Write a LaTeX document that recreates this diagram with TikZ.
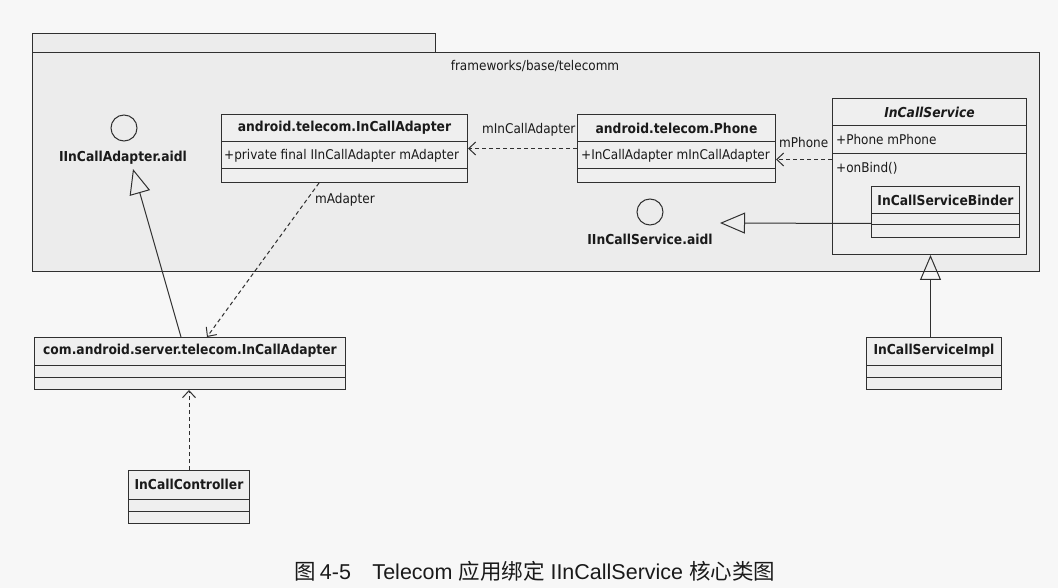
\documentclass[tikz,border=0pt]{standalone}
\usepackage{fontspec}
\usetikzlibrary{arrows.meta,calc}
\IfFontExistsTF{DejaVu Sans Condensed}{\newfontfamily\umlfont{DejaVu Sans Condensed}}{\newfontfamily\umlfont{DejaVu Sans}}
\newfontfamily\cjk{Noto Sans CJK SC}
\newfontfamily\capfont{Liberation Sans}
\definecolor{pagebg}{HTML}{F7F7F7}
\definecolor{pkgfill}{HTML}{ECECEC}
\definecolor{clsfill}{HTML}{EFEFEF}
\definecolor{linec}{HTML}{303030}
\definecolor{txtc}{HTML}{1A1A1A}
\tikzset{
  ln/.style={draw=linec, line width=1pt},
  cls/.style={ln, fill=clsfill, rectangle, inner sep=0pt, anchor=north west},
  ttl/.style={font=\umlfont\bfseries\fontsize{13.7}{15}\selectfont, text=txtc, inner sep=0pt},
  attr/.style={font=\umlfont\fontsize{13.4}{15}\selectfont, text=txtc, inner sep=0pt, anchor=west},
  ifc/.style={ln, circle, minimum size=26pt, inner sep=0pt, fill=pkgfill},
  dep/.style={ln, dash pattern=on 4pt off 3pt, -{Straight Barb[length=7pt,width=13pt]}},
  gen/.style={ln, -{Triangle[open, length=25pt, width=21pt]}},
}
\newcommand\umlclass[8]{%
  \node[cls, minimum width={#4pt-#2pt}, minimum height={#5pt-#3pt}] (#1) at (#2,#3) {};
  \draw[ln] (#2,#6) -- (#4,#6);
  \draw[ln] (#2,#7) -- (#4,#7);
  \node[ttl] (#1-t) at ($(#1.north)+(0,14)$) {#8};
}
\begin{document}
\begin{tikzpicture}[x=1pt,y=-1pt]
\useasboundingbox[fill=pagebg] (0,0) rectangle (1058,588);
% package
\node[ln, fill=pkgfill, rectangle, inner sep=0pt, anchor=north west, minimum width=403pt, minimum height=19pt] (tab) at (32,33) {};
\node[ln, fill=pkgfill, rectangle, inner sep=0pt, anchor=north west, minimum width=1007pt, minimum height=219pt] (pkg) at (32,52) {};
\node[attr, anchor=center] (pkgname) at (535,66) {frameworks/base/telecomm};
% classes
\umlclass{inca}{221}{114}{467}{182}{142}{169}{android.telecom.InCallAdapter}
\node[attr] (inca-a) at (224,155.5) {+private final IInCallAdapter mAdapter};
\umlclass{phone}{577}{114}{775}{182}{142}{169}{android.telecom.Phone}
\node[attr] (phone-a) at (581,155.5) {+InCallAdapter mInCallAdapter};
\umlclass{ics}{832}{98}{1026}{254}{126}{154}{\itshape InCallService}
\node[attr] (ics-a) at (836,140) {+Phone mPhone};
\node[attr] (ics-m) at (836,168) {+onBind()};
\umlclass{binder}{871}{186}{1019}{237}{214}{225}{InCallServiceBinder}
\umlclass{server}{34}{337}{345}{389}{365}{377}{com.android.server.telecom.InCallAdapter}
\umlclass{ctrl}{128}{470}{249}{523}{499}{511}{InCallController}
\umlclass{impl}{866}{337}{1001}{389}{365}{377}{InCallServiceImpl}
% interfaces
\node[ifc] (iac) at (124,128) {};
\node[ttl] (iat) at (123,158) {IInCallAdapter.aidl};
\coordinate (iatip) at (133,169);
\node[ifc] (isc) at (650,212) {};
\node[ttl] (ist) at (650,239) {IInCallService.aidl};
\coordinate (istip) at (720,223);
% connectors
\draw[dep] (phone.west) -- (inca.east |- phone.west);
\node[attr] (l1) at (482,129.5) {mInCallAdapter};
\draw[dep] ([yshift=17pt]ics.west) coordinate (b0) -- (phone.east |- b0);
\node[attr] (l2) at (779,142.5) {mPhone};
\draw[dep] ([xshift=98pt]inca.south west) -- ([xshift=173pt]server.north west);
\node[attr] (l3) at (315,200) {mAdapter};
\draw[gen] ([xshift=147pt]server.north west) -- (iatip);
\draw[gen] ([yshift=-11.5pt]binder.west) -- (istip);
\draw[gen] ([xshift=-3.5pt]impl.north) coordinate (f0) -- (f0 |- ics.south);
\draw[dep] (ctrl.north) -- (ctrl.north |- server.south);
% caption
\node[font=\capfont\fontsize{21.5}{24}\selectfont, text=txtc, inner sep=0pt] (cap) at (535,571)
  {{\cjk 图}\,4-5\quad Telecom {\cjk 应用绑定} IInCallService {\cjk 核心类图}};
\end{tikzpicture}
\end{document}
